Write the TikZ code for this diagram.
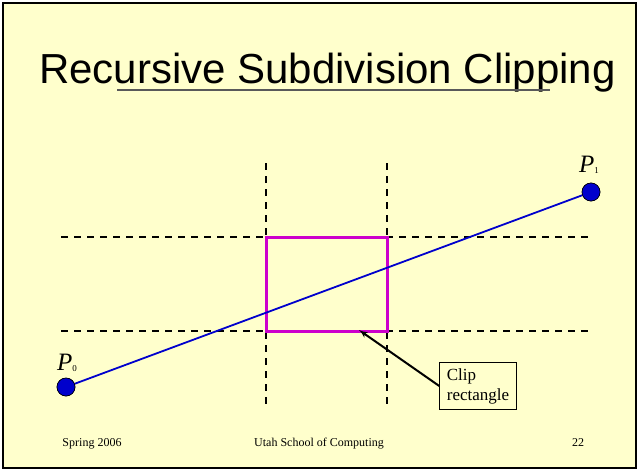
\documentclass[tikz,border=0pt]{standalone}
\usepackage{fontspec}
\setmainfont{Liberation Serif}
\newfontfamily\titlefont{Liberation Sans}
\usepackage{xcolor}
\usepackage{tikz}
\usetikzlibrary{arrows,positioning,calc}
\definecolor{slidecolor}{RGB}{255, 255, 204}
\definecolor{clipcolor}{RGB}{204, 0, 204}
\definecolor{segcolor}{RGB}{0, 0, 204}
\begin{document}
\begin{tikzpicture}[x=1pt,y=-1pt,>=latex',every node/.style={font=\fontsize{12}{14}\selectfont,inner sep=0pt},
  grid/.style={black,line width=1.6pt,dash pattern=on 7pt off 6pt},
  endpt/.style={circle,draw=black,fill=segcolor,minimum size=18pt,line width=0.6pt},
  plabel/.style={anchor=base west,font=\fontsize{25}{25}\selectfont\itshape}]
\useasboundingbox (0,0) rectangle (639,471);
\draw[fill=slidecolor,line width=2pt] (3,3) rectangle (636,468);
\node[anchor=base,font=\titlefont\fontsize{42}{42}\selectfont](title) at (327.5,83){Recursive Subdivision Clipping};
\draw[black!65,line width=1.5pt] (117,90) -- (550,90);
\draw[grid] (266,163) -- (266,406); \draw[grid] (387,163) -- (387,406);
\draw[grid] (61,237) -- (588,237); \draw[grid] (61,331) -- (588,331);
\draw[clipcolor,line width=3pt] (266,237) rectangle (387,331);
\node[endpt](p0) at (66,387){}; \node[endpt](p1) at (591,192){};
\draw[segcolor,line width=1.8pt](p0)--(p1);
\node[endpt] at (p0){}; \node[endpt] at (p1){};
\node[plabel](lp0) at (57,370){P\raisebox{-1pt}{\upshape\fontsize{9}{9}\selectfont 0}};
\node[plabel](lp1) at (579,172){P\raisebox{-1pt}{\upshape\fontsize{9}{9}\selectfont 1}};
\node[draw,line width=1.2pt,align=left,inner xsep=7pt,inner ysep=6pt,font=\fontsize{17}{20}\selectfont](clipbox) at (478,386){Clip\\rectangle};
\coordinate (tip) at (359,330);
\draw[->,line width=2pt](clipbox.west)--(tip);
\node[anchor=base](date) at (92,446){Spring 2006};
\node[anchor=base](school) at (319,446){Utah School of Computing};
\node[anchor=base](page) at (578,446){22};
\end{tikzpicture}
\end{document}
